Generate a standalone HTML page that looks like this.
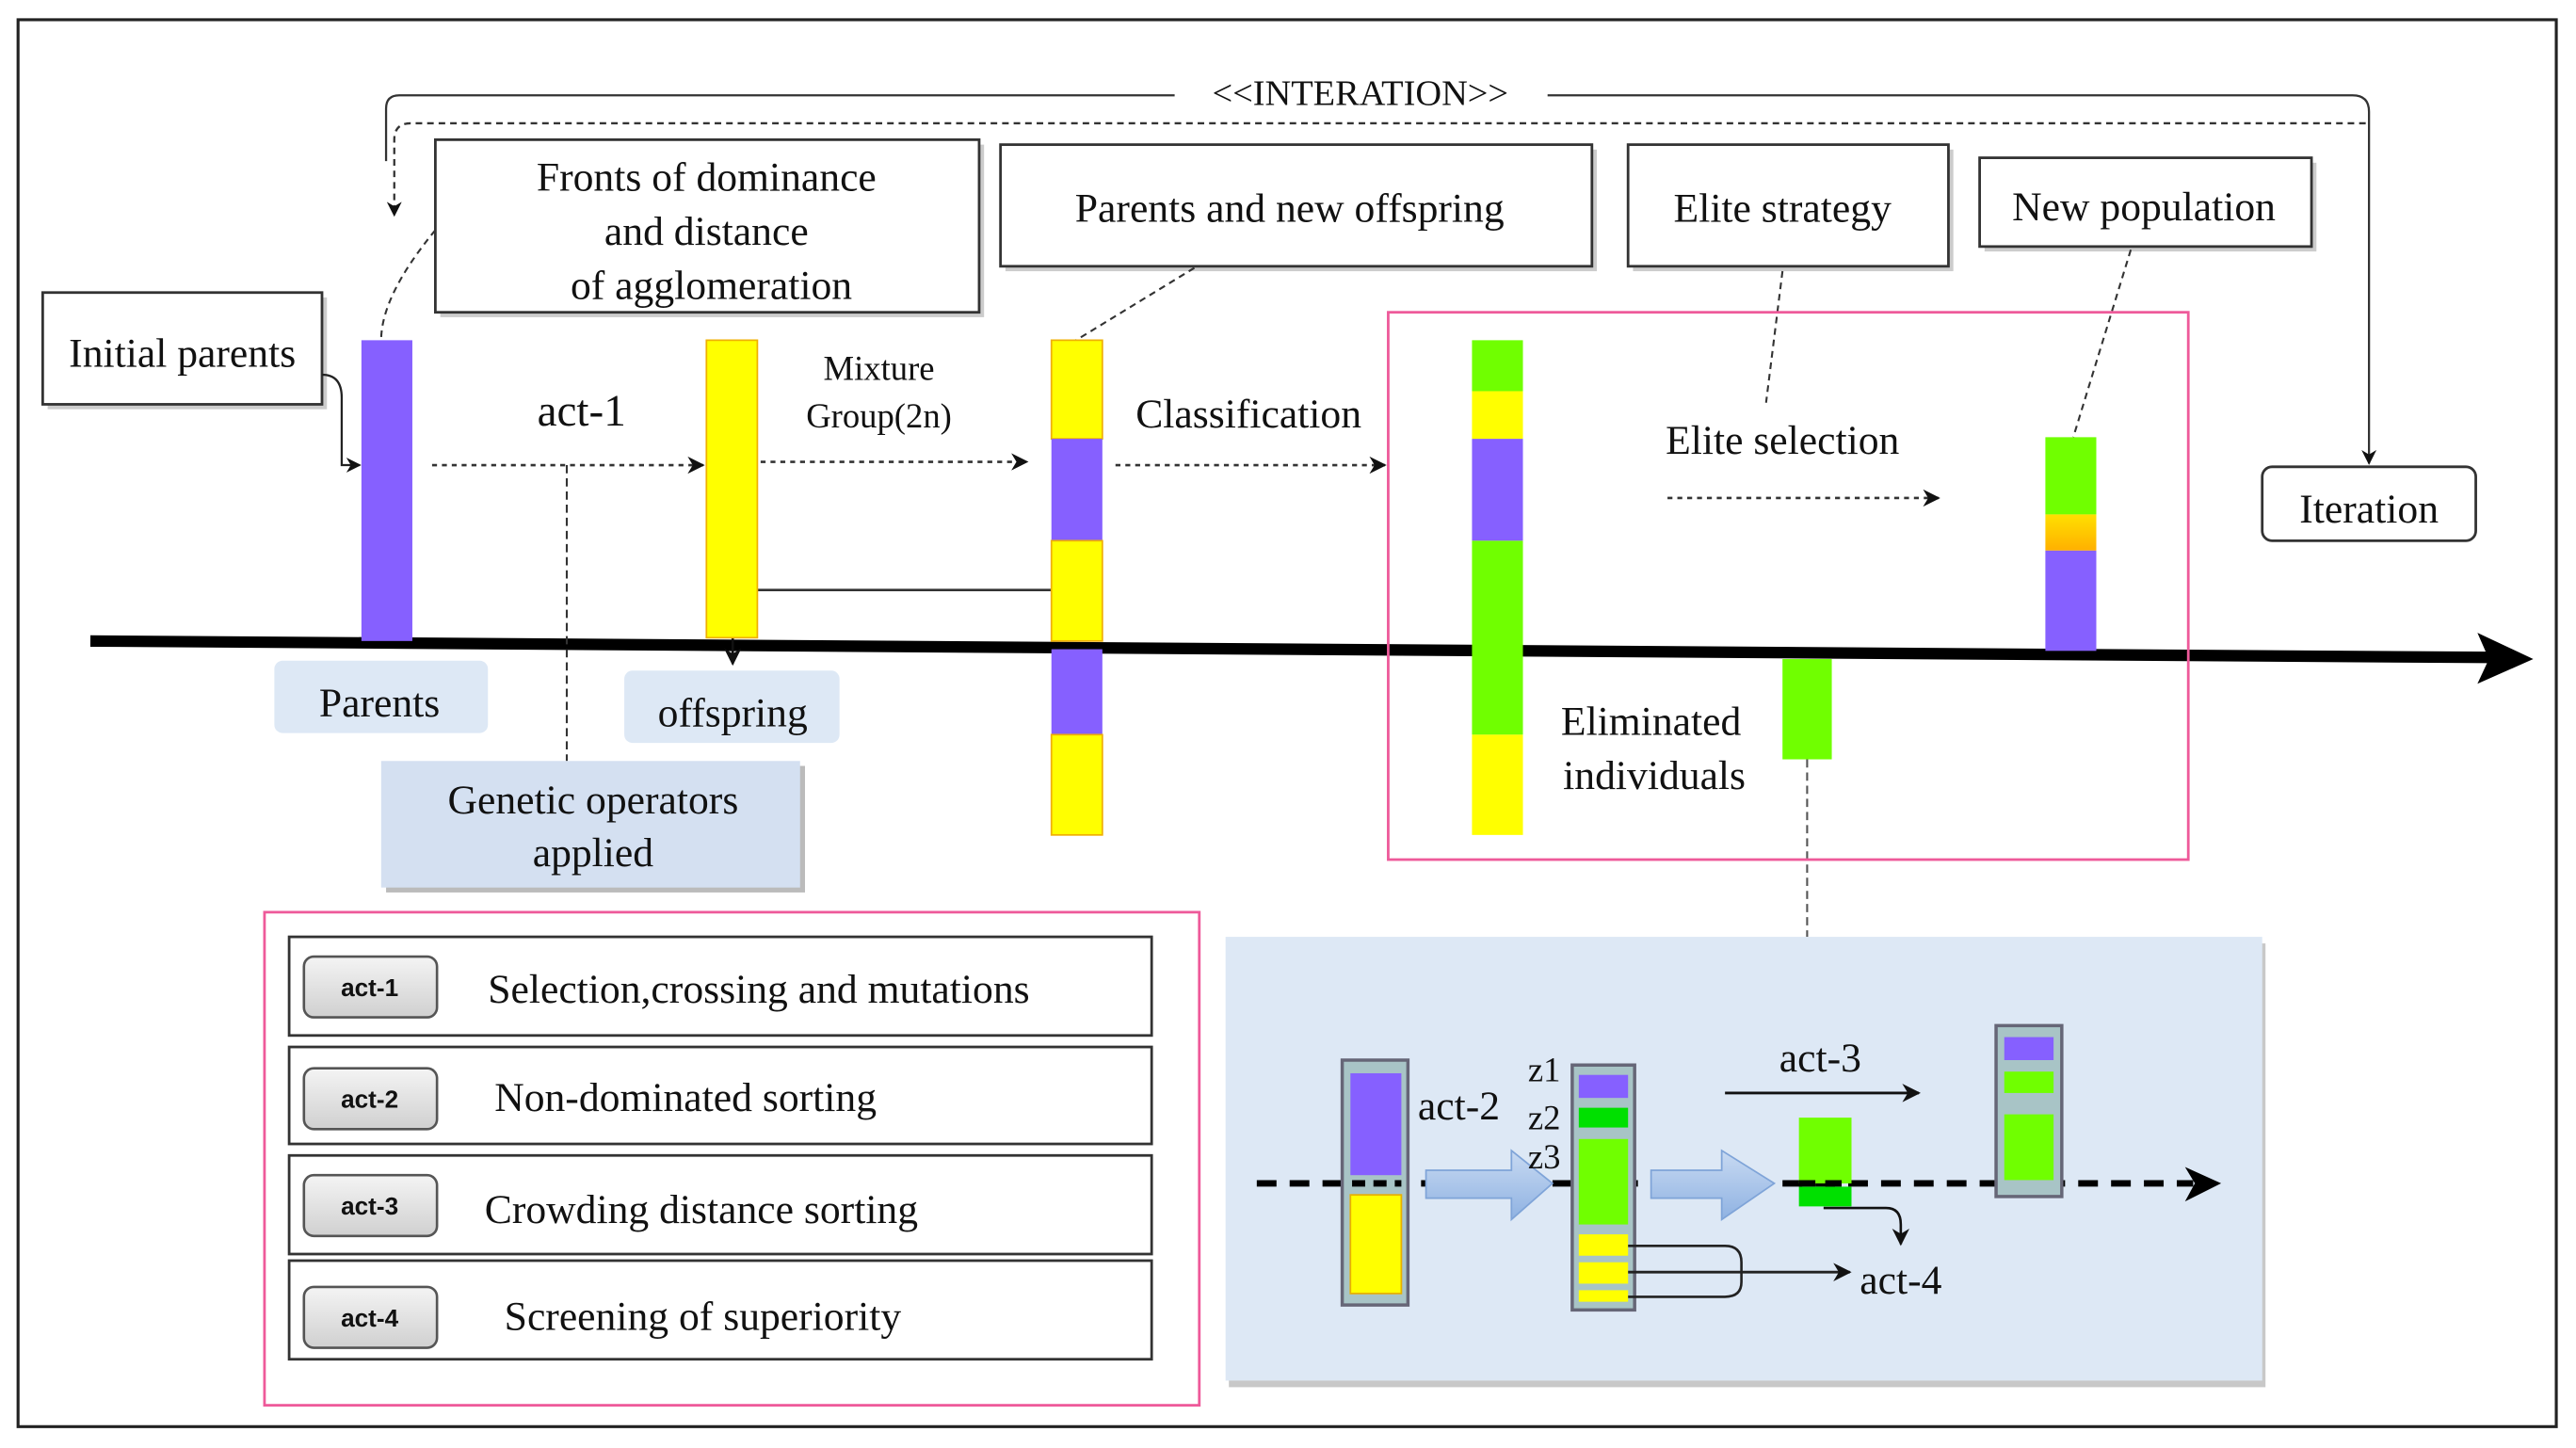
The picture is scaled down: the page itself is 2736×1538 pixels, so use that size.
<!DOCTYPE html>
<html><head><meta charset="utf-8"><style>
html,body{margin:0;padding:0;background:#fff;}
svg{display:block;}
svg text{font-family:"Liberation Serif","Times New Roman","DejaVu Serif",serif;fill:#111;}
svg text.sans{font-family:"Liberation Sans","DejaVu Sans",sans-serif;}
</style></head><body>
<svg width="2736" height="1538" viewBox="0 0 1568 881" preserveAspectRatio="none" xmlns="http://www.w3.org/2000/svg" font-family="Liberation Serif, serif">
<defs>
<marker id="ah" viewBox="0 0 10 10" refX="9" refY="5" markerWidth="7" markerHeight="7" orient="auto"><path d="M0,0 L10,5 L0,10 L3,5 z" fill="#111"/></marker>
<linearGradient id="btn" x1="0" y1="0" x2="0" y2="1"><stop offset="0" stop-color="#f4f4f4"/><stop offset="1" stop-color="#d0d0d0"/></linearGradient>
<linearGradient id="org" x1="0" y1="0" x2="0" y2="1"><stop offset="0" stop-color="#ffe000"/><stop offset="1" stop-color="#ffb000"/></linearGradient>
<linearGradient id="barr" x1="0" y1="0" x2="0" y2="1"><stop offset="0" stop-color="#c8daf2"/><stop offset="1" stop-color="#8fb2e2"/></linearGradient>
</defs>
<rect x="11" y="12" width="1545" height="856" fill="#fff" stroke="#222" stroke-width="1.8"/>

<path d="M235,98 L235,66 Q235,58 243,58 L715,58" fill="none" stroke="#333" stroke-width="1.3"/>
<path d="M942,58 L1432,58 Q1442,58 1442,68 L1442,282" fill="none" stroke="#333" stroke-width="1.3" marker-end="url(#ah)"/>
<text x="828" y="64" font-size="22" text-anchor="middle">&lt;&lt;INTERATION&gt;&gt;</text>
<path d="M1440,75 L250,75 Q240,75 240,85 L240,131" fill="none" stroke="#333" stroke-width="1.3" stroke-dasharray="4,3" marker-end="url(#ah)"/>

<path d="M55,390 L1515,400" stroke="#000" stroke-width="7"/>
<path d="M1508,385 L1542,401 L1508,416 L1515,401 z" fill="#000"/>

<g fill="#fff" stroke="#333" stroke-width="1.6">
<rect x="29" y="181" width="170" height="68" fill="#ccc" stroke="none"/>
<rect x="26" y="178" width="170" height="68"/>
<rect x="268" y="88" width="331" height="105" fill="#ccc" stroke="none"/>
<rect x="265" y="85" width="331" height="105"/>
<rect x="612" y="91" width="360" height="74" fill="#ccc" stroke="none"/>
<rect x="609" y="88" width="360" height="74"/>
<rect x="994" y="91" width="195" height="74" fill="#ccc" stroke="none"/>
<rect x="991" y="88" width="195" height="74"/>
<rect x="1208" y="99" width="202" height="54" fill="#ccc" stroke="none"/>
<rect x="1205" y="96" width="202" height="54"/>
<rect x="1377" y="284" width="130" height="45" rx="6"/>
</g>
<text x="111" y="223" font-size="25" text-anchor="middle">Initial parents</text>
<text x="430" y="116" font-size="25" text-anchor="middle">Fronts of dominance</text>
<text x="430" y="149" font-size="25" text-anchor="middle">and distance</text>
<text x="433" y="182" font-size="25" text-anchor="middle">of agglomeration</text>
<text x="785" y="135" font-size="25" text-anchor="middle">Parents  and  new  offspring</text>
<text x="1085" y="135" font-size="25" text-anchor="middle">Elite strategy</text>
<text x="1305" y="134" font-size="25" text-anchor="middle">New population</text>
<text x="1442" y="318" font-size="25" text-anchor="middle">Iteration</text>

<path d="M196,228 Q208,228 208,242 L208,283 L219,283" fill="none" stroke="#222" stroke-width="1.3" marker-end="url(#ah)"/>
<path d="M265,140 Q232,180 232,207" fill="none" stroke="#333" stroke-width="1.2" stroke-dasharray="4,3"/>
<path d="M727,163 L655,207" fill="none" stroke="#333" stroke-width="1.2" stroke-dasharray="4,3"/>
<path d="M1085,165 L1075,245" fill="none" stroke="#333" stroke-width="1.2" stroke-dasharray="4,3"/>
<path d="M1297,152 L1262,266" fill="none" stroke="#333" stroke-width="1.2" stroke-dasharray="4,3"/>
<g stroke="#333" stroke-width="1.5" stroke-dasharray="3,3" fill="none">
<path d="M263,283 L428,283" marker-end="url(#ah)"/>
<path d="M463,281 L625,281" marker-end="url(#ah)"/>
<path d="M679,283 L843,283" marker-end="url(#ah)"/>
<path d="M1015,303 L1180,303" marker-end="url(#ah)"/>
</g>
<path d="M345,283 L345,463" stroke="#333" stroke-width="1.2" stroke-dasharray="5,3" fill="none"/>
<path d="M1100,462 L1100,570" stroke="#555" stroke-width="1.2" stroke-dasharray="5,3" fill="none"/>
<path d="M461,359 L640,359" stroke="#333" stroke-width="1.5"/>
<path d="M446,388 L446,404" stroke="#111" stroke-width="1.5" marker-end="url(#ah)"/>

<text x="354" y="259" font-size="27" text-anchor="middle">act-1</text>
<text x="535" y="231" font-size="21" text-anchor="middle">Mixture</text>
<text x="535" y="260" font-size="21" text-anchor="middle">Group(2n)</text>
<text x="760" y="260" font-size="25" text-anchor="middle">Classification</text>
<text x="1085" y="276" font-size="25" text-anchor="middle">Elite selection</text>
<text x="1005" y="447" font-size="25" text-anchor="middle">Eliminated</text>
<text x="1007" y="480" font-size="25" text-anchor="middle">individuals</text>

<rect x="220" y="207" width="31" height="183" fill="#8660ff"/>
<rect x="430" y="207" width="31" height="181" fill="#ffff00" stroke="#f0b000" stroke-width="1"/>
<g stroke="#f0b000" stroke-width="1">
<rect x="640" y="207" width="31" height="60" fill="#ffff00"/>
<rect x="640" y="267" width="31" height="62" fill="#8660ff" stroke="none"/>
<rect x="640" y="329" width="31" height="61" fill="#ffff00"/>
<rect x="640" y="395" width="31" height="52" fill="#8660ff" stroke="none"/>
<rect x="640" y="447" width="31" height="61" fill="#ffff00"/>
</g>
<rect x="896" y="207" width="31" height="31" fill="#70ff00"/>
<rect x="896" y="238" width="31" height="29" fill="#ffff00"/>
<rect x="896" y="267" width="31" height="62" fill="#8660ff"/>
<rect x="896" y="329" width="31" height="118" fill="#70ff00"/>
<rect x="896" y="447" width="31" height="61" fill="#ffff00"/>
<rect x="1245" y="266" width="31" height="47" fill="#70ff00"/>
<rect x="1245" y="313" width="31" height="22" fill="url(#org)"/>
<rect x="1245" y="335" width="31" height="61" fill="#8660ff"/>
<rect x="1085" y="401" width="30" height="61" fill="#70ff00"/>

<rect x="845" y="190" width="487" height="333" fill="none" stroke="#ee5a9a" stroke-width="1.6"/>

<rect x="167" y="402" width="130" height="44" rx="5" fill="#dde8f5"/>
<text x="231" y="436" font-size="25" text-anchor="middle">Parents</text>
<rect x="380" y="408" width="131" height="44" rx="5" fill="#dde8f5"/>
<text x="446" y="442" font-size="25" text-anchor="middle">offspring</text>
<rect x="235" y="466" width="255" height="77" fill="#bbb"/>
<rect x="232" y="463" width="255" height="77" fill="#d4e0f1"/>
<text x="361" y="495" font-size="25" text-anchor="middle">Genetic operators</text>
<text x="361" y="527" font-size="25" text-anchor="middle">applied</text>

<rect x="161" y="555" width="569" height="300" fill="#fff" stroke="#ee5a9a" stroke-width="1.6"/>
<g fill="#fff" stroke="#333" stroke-width="1.6">
<rect x="176" y="570" width="525" height="60"/>
<rect x="176" y="637" width="525" height="59"/>
<rect x="176" y="703" width="525" height="60"/>
<rect x="176" y="767" width="525" height="60"/>
</g>
<g fill="url(#btn)" stroke="#555" stroke-width="1.5">
<rect x="185" y="582" width="81" height="37" rx="6"/>
<rect x="185" y="650" width="81" height="37" rx="6"/>
<rect x="185" y="715" width="81" height="37" rx="6"/>
<rect x="185" y="783" width="81" height="37" rx="6"/>
</g>
<text class="sans" x="225" y="606" font-size="15" font-weight="bold" text-anchor="middle">act-1</text>
<text class="sans" x="225" y="674" font-size="15" font-weight="bold" text-anchor="middle">act-2</text>
<text class="sans" x="225" y="739" font-size="15" font-weight="bold" text-anchor="middle">act-3</text>
<text class="sans" x="225" y="807" font-size="15" font-weight="bold" text-anchor="middle">act-4</text>
<text x="297" y="610" font-size="25">Selection,crossing and mutations</text>
<text x="301" y="676" font-size="25">Non-dominated sorting</text>
<text x="295" y="744" font-size="25">Crowding distance sorting</text>
<text x="307" y="809" font-size="25">Screening of superiority</text>

<rect x="748" y="574" width="631" height="270" fill="#c8c8c8"/>
<rect x="746" y="570" width="631" height="270" fill="#dde8f5"/>
<path d="M765,720 L1335,720" stroke="#000" stroke-width="4" stroke-dasharray="12,8"/>
<path d="M1330,710 L1352,720 L1330,731 L1336,720 z" fill="#000"/>

<rect x="817" y="645" width="40" height="149" fill="#a8c4c6" stroke="#667" stroke-width="2"/>
<rect x="822" y="653" width="31" height="62" fill="#8660ff"/>
<rect x="822" y="727" width="31" height="60" fill="#ffff00" stroke="#e8b000" stroke-width="1"/>
<path d="M823,720 L853,720" stroke="#000" stroke-width="4" stroke-dasharray="8,5"/>

<path d="M868,712 L920,712 L920,700 L945,720 L920,742 L920,729 L868,729 z" fill="url(#barr)" stroke="#7fa4d8" stroke-width="1"/>
<path d="M1005,712 L1048,712 L1048,700 L1080,720 L1048,742 L1048,729 L1005,729 z" fill="url(#barr)" stroke="#7fa4d8" stroke-width="1"/>

<rect x="957" y="648" width="38" height="149" fill="#a8c4c6" stroke="#667" stroke-width="2"/>
<rect x="961" y="654" width="30" height="14" fill="#8660ff"/>
<rect x="961" y="674" width="30" height="12" fill="#00e000"/>
<rect x="961" y="693" width="30" height="52" fill="#70ff00"/>
<rect x="961" y="751" width="30" height="13" fill="#ffff00"/>
<rect x="961" y="768" width="30" height="13" fill="#ffff00"/>
<rect x="961" y="785" width="30" height="7" fill="#ffff00"/>

<text x="888" y="681" font-size="25" text-anchor="middle">act-2</text>
<text x="940" y="658" font-size="21" text-anchor="middle">z1</text>
<text x="940" y="687" font-size="21" text-anchor="middle">z2</text>
<text x="940" y="711" font-size="21" text-anchor="middle">z3</text>

<text x="1108" y="652" font-size="25" text-anchor="middle">act-3</text>
<path d="M1050,665 L1168,665" stroke="#111" stroke-width="1.6" marker-end="url(#ah)"/>
<rect x="1095" y="680" width="32" height="40" fill="#70ff00"/>
<rect x="1095" y="722" width="32" height="12" fill="#00e000"/>
<path d="M1095,720 L1127,720" stroke="#000" stroke-width="4" stroke-dasharray="10,6"/>
<path d="M1110,735 L1148,735 Q1157,735 1157,745 L1157,757" fill="none" stroke="#111" stroke-width="1.5" marker-end="url(#ah)"/>

<path d="M991,758 L1050,758 Q1060,758 1060,768 L1060,780 Q1060,789 1050,789 L991,789" fill="none" stroke="#222" stroke-width="1.5"/>
<path d="M991,774 L1126,774" stroke="#222" stroke-width="1.6" marker-end="url(#ah)"/>
<text x="1157" y="787" font-size="25" text-anchor="middle">act-4</text>

<rect x="1215" y="624" width="40" height="104" fill="#a8c4c6" stroke="#667" stroke-width="2"/>
<rect x="1220" y="631" width="30" height="14" fill="#8660ff"/>
<rect x="1220" y="652" width="30" height="13" fill="#70ff00"/>
<rect x="1220" y="678" width="30" height="40" fill="#70ff00"/>
</svg>
</body></html>
